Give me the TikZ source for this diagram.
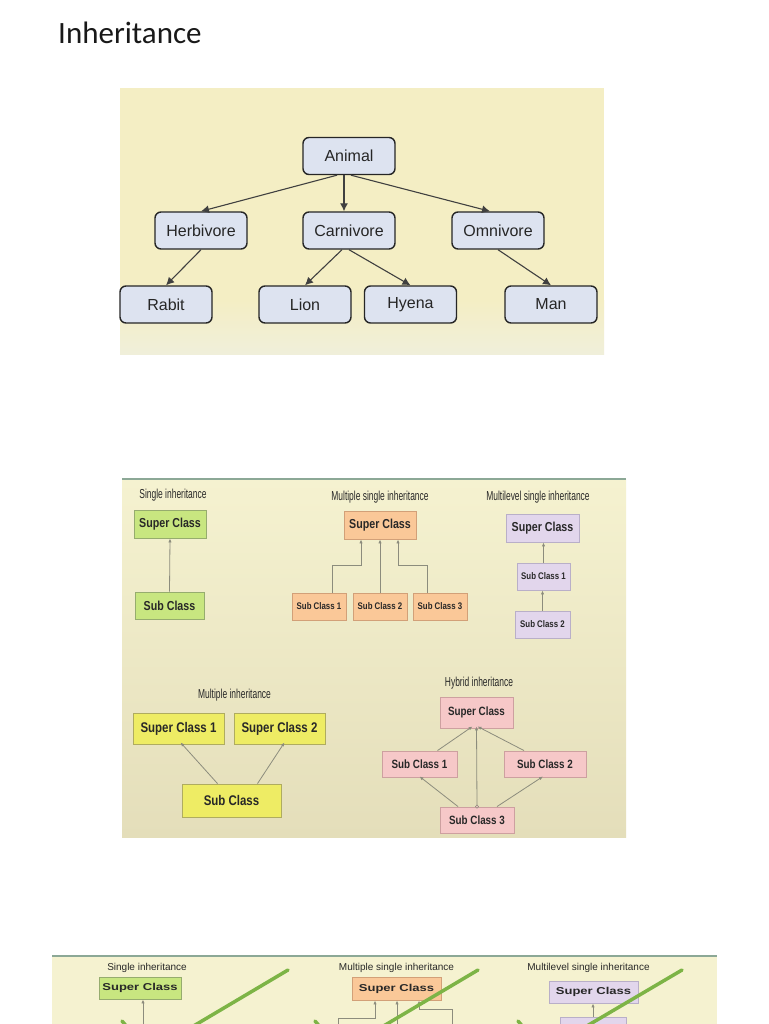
\documentclass[tikz,border=0pt]{standalone}
\usepackage{fontspec}
\setmainfont{Liberation Sans}
\newfontfamily\carl{Carlito}
\newfontfamily\labfont[FakeStretch=0.65]{Liberation Sans}
\newfontfamily\boxfont[FakeStretch=0.82]{Liberation Sans Bold}
\newfontfamily\widefont[FakeStretch=1.3]{Liberation Sans Bold}
\usetikzlibrary{arrows.meta}
\definecolor{tpbg}{RGB}{244,238,196}
\definecolor{tpbg2}{RGB}{240,239,218}
\definecolor{mpbg}{RGB}{245,242,208}
\definecolor{mpbg2}{RGB}{228,222,186}
\definecolor{rule}{RGB}{140,168,150}
\definecolor{nblue}{RGB}{221,227,240}
\definecolor{gfill}{RGB}{200,230,128}
\definecolor{gdraw}{RGB}{150,172,110}
\definecolor{ofill}{RGB}{250,200,152}
\definecolor{odraw}{RGB}{210,160,120}
\definecolor{pfill}{RGB}{226,214,236}
\definecolor{pdraw}{RGB}{185,175,200}
\definecolor{yfill}{RGB}{238,236,100}
\definecolor{ydraw}{RGB}{175,172,95}
\definecolor{kfill}{RGB}{246,200,200}
\definecolor{kdraw}{RGB}{205,160,160}
\definecolor{arr}{RGB}{140,140,125}
\definecolor{txt}{RGB}{40,40,40}
\definecolor{slash}{RGB}{125,180,70}
\tikzset{
  anim/.style={draw=black!85, line width=1.4pt, fill=nblue, rounded corners=6pt,
    minimum width=92, minimum height=37, inner sep=0, text=black!85,
    font=\fontsize{16}{18}\selectfont},
  tarr/.style={draw=black!75, line width=1.1pt, -{Latex[length=8,width=8]}},
  cbox/.style={draw=#1, line width=0.9pt, inner sep=0, text=txt},
  lab/.style={text=txt, inner sep=0, font=\labfont\fontsize{13}{15}\selectfont},
  big/.style={font=\boxfont\fontsize{13}{15}\selectfont},
  small/.style={font=\boxfont\fontsize{9.6}{11}\selectfont},
  marr/.style={draw=arr, line width=0.8pt, -{Latex[length=4,width=3.4]}},
  blab/.style={text=txt, inner sep=0, font=\fontsize{10}{12}\selectfont},
  bbox/.style={draw=#1, line width=0.9pt, inner sep=0, text=txt,
    font=\widefont\fontsize{10}{12}\selectfont},
  sl/.style={draw=slash, line width=3.5pt, line cap=round}
}
\begin{document}
\begin{tikzpicture}[x=1pt,y=-1pt]
\useasboundingbox (0,0) rectangle (768,1024);
\fill[white] (0,0) rectangle (768,1024);
\node[anchor=base west, inner sep=0, text=black!90, font=\carl\fontsize{31}{36}\selectfont] (title) at (58,44) {Inheritance};

% ---------- top panel ----------
\fill[tpbg] (120,88) rectangle (604,354);
\shade[top color=tpbg, bottom color=tpbg2] (120,300) rectangle (604,354);
\node[anim] (animal) at (349,156) {Animal};
\node[anim] (herb) at (201,230.5) {Herbivore};
\node[anim] (carn) at (349,230.5) {Carnivore};
\node[anim] (omni) at (498,230.5) {Omnivore};
\node[anim] (rabit) at (166,304.5) {Rabit};
\node[anim] (lion) at (305,304.5) {Lion};
\node[anim] (hyena) at (410.5,304.5) {Hyena};
\node[anim] (man) at (551,304.5) {Man};
\draw[tarr] ([xshift=-12]animal.south) -- (herb.north);
\draw[tarr] ([xshift=-5]animal.south) -- ([xshift=-5]carn.north);
\draw[tarr] ([xshift=2]animal.south) -- ([xshift=-8]omni.north);
\draw[tarr] (herb.south) -- (rabit.north);
\draw[tarr] ([xshift=-7]carn.south) -- (lion.north);
\draw[tarr] (carn.south) -- (hyena.north);
\draw[tarr] (omni.south) -- (man.north);

% ---------- middle panel ----------
\shade[top color=mpbg, bottom color=mpbg2] (122,479) rectangle (626,837);
\draw[rule, line width=1.5pt] (122,479) -- (626,479);

\node[lab] (l1) at (173,495) {Single inheritance};
\node[cbox=gdraw, fill=gfill, big, minimum width=72, minimum height=28] (gsup) at (170,524) {Super Class};
\node[cbox=gdraw, fill=gfill, big, minimum width=69, minimum height=27] (gsub) at (169.5,605.5) {Sub Class};
\draw[marr] (gsub.north) -- (gsup.south);

\node[lab] (l2) at (380,497) {Multiple single inheritance};
\node[cbox=odraw, fill=ofill, big, minimum width=72, minimum height=28] (osup) at (380,525) {Super Class};
\node[cbox=odraw, fill=ofill, small, minimum width=54, minimum height=27] (os1) at (319,606.5) {Sub Class 1};
\node[cbox=odraw, fill=ofill, small, minimum width=54, minimum height=27] (os2) at (380,606.5) {Sub Class 2};
\node[cbox=odraw, fill=ofill, small, minimum width=54, minimum height=27] (os3) at (440,606.5) {Sub Class 3};
\draw[marr] ([xshift=13]os1.north) -- ++(0,-27) -| ([xshift=-19]osup.south);
\draw[marr] (os2.north) -- (osup.south);
\draw[marr] ([xshift=-13]os3.north) -- ++(0,-27) -| ([xshift=18]osup.south);

\node[lab] (l3) at (538,497) {Multilevel single inheritance};
\node[cbox=pdraw, fill=pfill, big, minimum width=73, minimum height=28] (psup) at (542.5,528) {Super Class};
\node[cbox=pdraw, fill=pfill, small, minimum width=53, minimum height=27] (ps1) at (543.5,576.5) {Sub Class 1};
\node[cbox=pdraw, fill=pfill, small, minimum width=55, minimum height=27] (ps2) at (542.5,624.5) {Sub Class 2};
\draw[marr] (ps1.north) -- (ps1.north |- psup.south);
\draw[marr] (ps2.north) -- (ps2.north |- ps1.south);

\node[lab] (l4) at (234.5,695) {Multiple inheritance};
\node[cbox=ydraw, fill=yfill, font=\boxfont\fontsize{14}{16}\selectfont, minimum width=91, minimum height=31] (ysup1) at (178.5,728.5) {Super Class 1};
\node[cbox=ydraw, fill=yfill, font=\boxfont\fontsize{14}{16}\selectfont, minimum width=91, minimum height=31] (ysup2) at (279.5,728.5) {Super Class 2};
\node[cbox=ydraw, fill=yfill, font=\boxfont\fontsize{14}{16}\selectfont, minimum width=99, minimum height=33] (ysub) at (231.5,800.5) {Sub Class};
\draw[marr] ([xshift=-14]ysub.north) -- ([xshift=2,yshift=2]ysup1.south);
\draw[marr] ([xshift=26]ysub.north) -- ([xshift=5,yshift=2]ysup2.south);

\node[lab] (l5) at (479,683) {Hybrid inheritance};
\node[cbox=kdraw, fill=kfill, font=\boxfont\fontsize{12}{14}\selectfont, minimum width=73, minimum height=31] (ksup) at (476.5,712.5) {Super Class};
\node[cbox=kdraw, fill=kfill, font=\boxfont\fontsize{12}{14}\selectfont, minimum width=75, minimum height=26] (ks1) at (419.5,764) {Sub Class 1};
\node[cbox=kdraw, fill=kfill, font=\boxfont\fontsize{12}{14}\selectfont, minimum width=82, minimum height=26] (ks2) at (545,764) {Sub Class 2};
\node[cbox=kdraw, fill=kfill, font=\boxfont\fontsize{12}{14}\selectfont, minimum width=74, minimum height=26] (ks3) at (477,820) {Sub Class 3};
\draw[marr] ([xshift=18]ks1.north) -- ([xshift=-4,yshift=2]ksup.south);
\draw[marr] ([xshift=-21]ks2.north) -- ([xshift=1,yshift=2]ksup.south);
\draw[marr] (ks3.north) -- ([yshift=2]ksup.south);
\fill[kfill, draw=arr, line width=0.5pt] (ks3.north) circle (1.6);
\draw[marr] ([xshift=-19]ks3.north) -- ([xshift=0,yshift=1]ks1.south);
\draw[marr] ([xshift=20]ks3.north) -- ([xshift=-2,yshift=1]ks2.south);

% ---------- bottom panel (cut off) ----------
\begin{scope}
\clip (0,0) rectangle (768,1024);
\fill[mpbg] (52,956) rectangle (717,1030);
\draw[rule, line width=1.5pt] (52,956) -- (717,956);
\node[blab] (b1) at (147,968) {Single inheritance};
\node[bbox=gdraw, fill=gfill, minimum width=82, minimum height=22] (bgsup) at (140,988) {Super Class};
\coordinate (bgend) at (143,1040);
\draw[marr] (bgend) -- (bgend |- bgsup.south);

\node[blab] (b2) at (396.5,968) {Multiple single inheritance};
\node[bbox=odraw, fill=ofill, minimum width=89, minimum height=23] (bosup) at (396.5,988.5) {Super Class};
\coordinate (bo1) at (338,1040);
\coordinate (bo2) at (397,1040);
\coordinate (bo3) at (452,1040);
\draw[marr] (bo1) -- (338,1018) -| ([xshift=-21.5]bosup.south);
\draw[marr] (bo2) -- (bo2 |- bosup.south);
\draw[marr] (bo3) -- (452,1009) -| ([xshift=22.5]bosup.south);

\node[blab] (b3) at (588.5,968) {Multilevel single inheritance};
\node[bbox=pdraw, fill=pfill, minimum width=89, minimum height=22] (bpsup) at (593.5,992) {Super Class};
\node[bbox=pdraw, fill=pfill, minimum width=66, minimum height=26] (bps1) at (593,1030) {};
\draw[marr] (bps1.north) -- (bps1.north |- bpsup.south);

\draw[sl] (288,970) -- (180,1034);
\draw[sl] (478,970) -- (370,1034);
\draw[sl] (682,970) -- (580,1030);
\draw[sl] (122,1021) -- (128,1028);
\draw[sl] (315,1021) -- (321,1028);
\draw[sl] (518,1021) -- (524,1028);
\end{scope}
\end{tikzpicture}
\end{document}
